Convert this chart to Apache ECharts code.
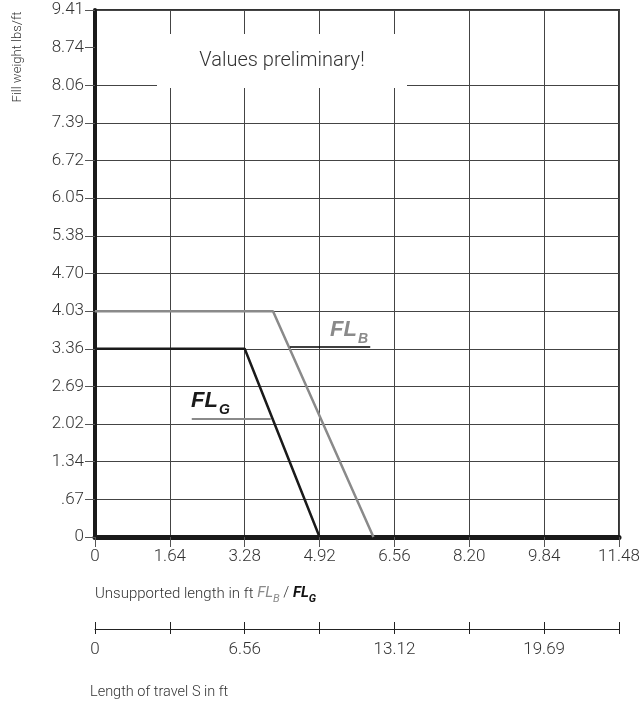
<!DOCTYPE html>
<html>
<head>
<meta charset="utf-8">
<script src="https://cdn.jsdelivr.net/npm/echarts@6/dist/echarts.min.js"></script>
<style>
  html, body { margin: 0; padding: 0; background: #fff; }
  #main { width: 643px; height: 705px; }
</style>
</head>
<body>
<div id="main"></div>
<script>
// 刻度标签
var xTickLabels = ['0', '1.64', '3.28', '4.92', '6.56', '8.20', '9.84', '11.48'];
var yTickLabels = ['0', '.67', '1.34', '2.02', '2.69', '3.36', '4.03', '4.70', '5.38', '6.05', '6.72', '7.39', '8.06', '8.74', '9.41'];
var travelTickLabels = ['0', '', '6.56', '', '13.12', '', '19.69', ''];
var xStep = 1.64, xMax = 11.48;
var yStep = 9.41 / 14, yMax = 9.41;
var travelStep = 3.28, travelMax = 22.96;
// 曲线数据 (x: ft, y: lbs/ft)
var flB = [[0, 4.03], [3.9, 4.03], [6.1, 0]];
var flG = [[0, 3.36], [3.28, 3.36], [4.92, 0]];

(function () {
  var myChart = echarts.init(document.getElementById('main'));
  var font = 'Roboto, "Liberation Sans", sans-serif';
  var bold = '"Liberation Sans", Arial, sans-serif';
  var txt = '#333';
  // 8.74 那条网格线不画
  var splitColors = yTickLabels.map(function (l) { return l === '8.74' ? 'rgba(0,0,0,0)' : '#444'; });

  var option = {
    animation: false,
    grid: [
      { left: 95, right: 24, top: 10, bottom: 168, show: true, borderColor: '#333', borderWidth: 2, backgroundColor: 'transparent' },
      { left: 95, right: 24, top: 629, height: 0 }
    ],
    xAxis: [
      {
        type: 'value', gridIndex: 0, min: 0, max: xMax, interval: xStep,
        axisLine: { show: true, lineStyle: { color: '#1a1a1a', width: 5 } },
        axisTick: { show: true, length: 10, lineStyle: { color: '#555', width: 1 } },
        axisLabel: {
          margin: 11, color: txt, fontSize: 17, fontFamily: font, fontWeight: 300,
          formatter: function (v) { return xTickLabels[Math.round(v / xStep)]; }
        },
        splitLine: { show: true, lineStyle: { color: '#444', width: 1 } }
      },
      {
        type: 'value', gridIndex: 1, position: 'bottom', min: 0, max: travelMax, interval: travelStep,
        axisLine: { show: true, lineStyle: { color: '#222', width: 1 } },
        axisTick: { show: true, length: 5, lineStyle: { color: '#222', width: 1 } },
        axisLabel: {
          margin: 12, color: txt, fontSize: 17, fontFamily: font, fontWeight: 300,
          formatter: function (v) { return travelTickLabels[Math.round(v / travelStep)]; }
        },
        splitLine: { show: false }
      },
      {
        type: 'value', gridIndex: 1, position: 'top', min: 0, max: travelMax, interval: travelStep,
        axisLine: { show: false },
        axisTick: { show: true, length: 7, lineStyle: { color: '#222', width: 1 } },
        axisLabel: { show: false },
        splitLine: { show: false }
      }
    ],
    yAxis: [
      {
        type: 'value', gridIndex: 0, min: 0, max: yMax, interval: yStep,
        axisLine: { show: true, lineStyle: { color: '#1a1a1a', width: 4 } },
        axisTick: { show: true, length: 10, lineStyle: { color: '#555', width: 1 } },
        axisLabel: {
          margin: 11, color: txt, fontSize: 17, fontFamily: font, fontWeight: 300,
          formatter: function (v) { return yTickLabels[Math.round(v / yStep)]; }
        },
        splitLine: { show: true, lineStyle: { color: splitColors, width: 1 } }
      },
      { type: 'value', gridIndex: 1, show: false }
    ],
    series: [
      {
        name: 'FL_B', type: 'line', xAxisIndex: 0, yAxisIndex: 0, data: flB,
        symbol: 'none', z: 3,
        lineStyle: { color: '#8a8a8a', width: 2.5 },
        markLine: {
          silent: true, symbol: 'none', label: { show: false },
          lineStyle: { color: '#000', width: 1.5, type: 'solid', opacity: 1 },
          emphasis: { disabled: true },
          data: [[{ coord: [4.27, 3.39] }, { coord: [6.03, 3.39] }]]
        }
      },
      {
        name: 'FL_G', type: 'line', xAxisIndex: 0, yAxisIndex: 0, data: flG,
        symbol: 'none', z: 4,
        lineStyle: { color: '#1a1a1a', width: 2.5 },
        markLine: {
          silent: true, symbol: 'none', label: { show: false },
          lineStyle: { color: '#8a8a8a', width: 2, type: 'solid', opacity: 1 },
          emphasis: { disabled: true },
          data: [[{ coord: [2.12, 2.11] }, { coord: [3.85, 2.11] }]]
        }
      }
    ],
    graphic: [
      // 说明框
      { type: 'rect', z: 10, shape: { x: 157, y: 34, width: 250, height: 54 }, style: { fill: '#fff' } },
      { type: 'text', z: 11, style: { x: 282, y: 61, text: 'Values preliminary!', align: 'center', verticalAlign: 'middle', fill: txt, fontSize: 20, fontFamily: font, fontWeight: 300 } },
      // 纵轴名
      { type: 'text', z: 11, x: 18, y: 57, rotation: Math.PI / 2, style: { text: 'Fill weight lbs/ft', align: 'center', verticalAlign: 'middle', fill: txt, fontSize: 13, fontFamily: font, fontWeight: 300 } },
      // 曲线标记
      {
        type: 'text', z: 11, style: {
          x: 191, y: 390, text: '{m|FL}{s|G}', fill: '#1a1a1a', verticalAlign: 'top',
          rich: {
            m: { fontSize: 22, lineHeight: 26, fontStyle: 'italic', fontWeight: 'bold', fontFamily: bold, fill: '#1a1a1a', verticalAlign: 'top' },
            s: { fontSize: 14, lineHeight: 14, padding: [13, 0, 0, 1], fontStyle: 'italic', fontWeight: 'bold', fontFamily: bold, fill: '#1a1a1a', verticalAlign: 'top' }
          }
        }
      },
      {
        type: 'text', z: 11, style: {
          x: 330, y: 319, text: '{m|FL}{s|B}', fill: '#8a8a8a', verticalAlign: 'top',
          rich: {
            m: { fontSize: 22, lineHeight: 26, fontStyle: 'italic', fontWeight: 'bold', fontFamily: bold, fill: '#8a8a8a', verticalAlign: 'top' },
            s: { fontSize: 14, lineHeight: 14, padding: [13, 0, 0, 1], fontStyle: 'italic', fontWeight: 'bold', fontFamily: bold, fill: '#8a8a8a', verticalAlign: 'top' }
          }
        }
      },
      // 横轴名
      {
        type: 'text', z: 11, style: {
          x: 95, y: 586, text: 'Unsupported length in ft {b|FL}{bs|B}{n| / }{g|FL}{gs|G}', fill: txt, verticalAlign: 'top',
          fontSize: 15, fontFamily: font, fontWeight: 300,
          rich: {
            b: { fontSize: 15, lineHeight: 16, fontStyle: 'italic', fontFamily: font, fill: '#8a8a8a', verticalAlign: 'top' },
            bs: { fontSize: 11, lineHeight: 11, padding: [8, 0, 0, 0], fontStyle: 'italic', fontFamily: font, fill: '#8a8a8a', verticalAlign: 'top' },
            n: { fontSize: 15, lineHeight: 16, fontFamily: font, fontWeight: 300, fill: txt, verticalAlign: 'top' },
            g: { fontSize: 15, lineHeight: 16, fontStyle: 'italic', fontWeight: 'bold', fontFamily: font, fill: '#111', verticalAlign: 'top' },
            gs: { fontSize: 11, lineHeight: 11, padding: [8, 0, 0, 0], fontStyle: 'italic', fontWeight: 'bold', fontFamily: font, fill: '#111', verticalAlign: 'top' }
          }
        }
      },
      { type: 'text', z: 11, style: { x: 90, y: 692, text: 'Length of travel S in ft', align: 'left', verticalAlign: 'middle', fill: txt, fontSize: 14.5, fontFamily: font, fontWeight: 300 } }
    ]
  };
  myChart.setOption(option);
  window.addEventListener('resize', function () {
    myChart.resize();
  });
})();
</script>
</body>
</html>
